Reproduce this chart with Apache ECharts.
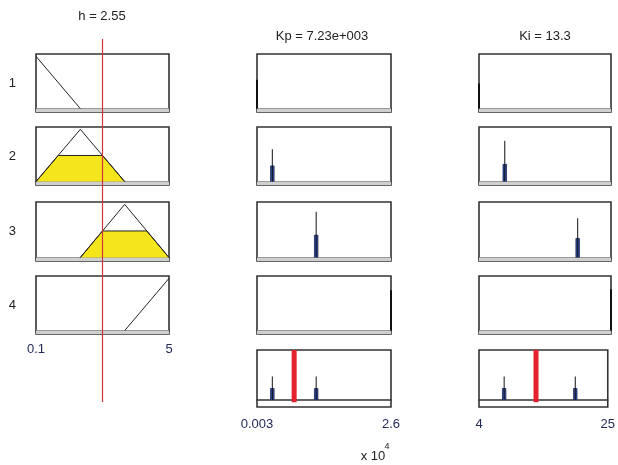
<!DOCTYPE html>
<html>
 <head>
  <meta charset="utf-8" />
  <title>Rule viewer</title>
  <script src="https://cdn.jsdelivr.net/npm/echarts@6/dist/echarts.min.js"></script>
 </head>
 <body style="margin:0;background:#fff;">
  <div id="main" style="width:618px;height:465px;"></div>
  <script type="text/javascript">

    // ranges and crisp values
    var hRange = [0.1, 5];
    var kpRange = [30, 26000];
    var kiRange = [4, 25];
    var hTickLabels = ['0.1', '5'];
    var kpTickLabels = ['0.003', '2.6'];
    var kiTickLabels = ['4', '25'];
    var hValue = 2.55;
    var kpValue = 7230;
    var kiValue = 13.3;
    var ruleLabels = ['1', '2', '3', '4'];

    // input membership functions of h (x, degree)
    var hMf1 = [[0.1, 1], [1.733, 0]];
    var hMf2 = [[0.1, 0], [1.733, 1], [3.367, 0]];
    var hMf3 = [[1.733, 0], [3.367, 1], [5, 0]];
    var hMf4 = [[3.367, 0], [5, 1]];
    // fired parts (clipped at 0.5)
    var hFill2 = [[0.1, 0], [0.917, 0.5], [2.55, 0.5], [3.367, 0]];
    var hFill3 = [[1.733, 0], [2.55, 0.5], [4.183, 0.5], [5, 0]];

    // output spikes per rule: position, visible peak, filled height
    var kpPos = [30, 3000, 11500, 26000];
    var kpPeak = [0.55, 0.62, 0.86, 0.77];
    var kpFill = [0, 0.3, 0.42, 0];
    var kiPos = [4, 8.1, 19.7, 25];
    var kiPeak = [0.48, 0.78, 0.74, 0.79];
    var kiFill = [0, 0.33, 0.36, 0];
    // aggregated row
    var aggPeak = 0.47;
    var aggFill = 0.23;

    var myChart = echarts.init(document.getElementById('main'));

    var colLeft = [36, 257, 479];
    var colWidth = [133, 134, 132];
    var rowTop = [54, 127, 202, 276, 350];
    var rowHeight = [58, 58, 59, 58, 57];

    var grids = [], xAxes = [], yAxes = [], series = [];
    var FONT = 'Liberation Sans';

    function addCell(r, c, range, labels, margin, rowName) {
        var idx = grids.length;
        var agg = r == 4;
        grids.push({
            left: colLeft[c], top: rowTop[r], width: colWidth[c], height: rowHeight[r],
            show: true, borderColor: '#333', borderWidth: 1.6, backgroundColor: 'transparent'
        });
        xAxes.push({
            type: 'value', gridIndex: idx, min: range[0], max: range[1],
            axisLine: { show: true, onZero: true, lineStyle: { color: '#333', width: 1.5 } },
            axisTick: { show: false },
            splitLine: { show: false },
            axisLabel: {
                show: !!labels, customValues: range, margin: margin || 8,
                color: '#232a5a', fontSize: 13, fontFamily: FONT,
                formatter: function (v) {
                    return Math.abs(v - range[0]) < 1e-6 ? labels[0] : labels[1];
                }
            }
        });
        yAxes.push({
            type: 'value', gridIndex: idx,
            min: agg ? -0.14 : -0.065, max: agg ? 1.0 : 1.045,
            axisLine: { show: false }, axisTick: { show: false },
            axisLabel: { show: false }, splitLine: { show: false },
            name: rowName || '', nameLocation: 'middle', nameGap: 20, nameRotate: 0,
            nameTextStyle: { fontSize: 13, color: '#222', fontFamily: FONT }
        });
        if (!agg) {
            series.push({
                type: 'line', xAxisIndex: idx, yAxisIndex: idx, data: [],
                silent: true,
                markArea: {
                    silent: true,
                    itemStyle: { color: '#cfcfcf' },
                    data: [[{ yAxis: -0.065 }, { yAxis: 0 }]]
                }
            });
        }
        return idx;
    }

    function mfLine(idx, pts) {
        series.push({
            type: 'line', xAxisIndex: idx, yAxisIndex: idx, data: pts,
            symbol: 'none', clip: false, z: 3,
            lineStyle: { color: '#222', width: 1 }
        });
    }

    function mfFill(idx, pts) {
        series.push({
            type: 'line', xAxisIndex: idx, yAxisIndex: idx, data: pts,
            symbol: 'none', z: 2,
            lineStyle: { color: '#222', width: 1 },
            areaStyle: { color: '#f5e51b', opacity: 1 }
        });
    }

    function spike(idx, x, peak, fill, halfW) {
        if (fill > 0) {
            series.push({
                type: 'line', xAxisIndex: idx, yAxisIndex: idx,
                data: [[x - halfW, 0], [x - halfW, fill], [x + halfW, fill], [x + halfW, 0]],
                symbol: 'none', z: 2,
                lineStyle: { color: '#1b2550', width: 0.8 },
                areaStyle: { color: '#2f4ea3', opacity: 1 }
            });
        }
        series.push({
            type: 'line', xAxisIndex: idx, yAxisIndex: idx,
            data: [[x, 0], [x, peak]],
            symbol: 'none', clip: false, z: 3,
            lineStyle: { color: '#111', width: fill > 0 ? 1 : 2 }
        });
    }

    function redBar(idx, v) {
        series.push({
            type: 'line', xAxisIndex: idx, yAxisIndex: idx,
            data: [[v, -0.045], [v, 1.0]],
            symbol: 'none', z: 4,
            lineStyle: { color: '#e3222b', width: 5 }
        });
    }

    // input column
    var hMfs = [hMf1, hMf2, hMf3, hMf4];
    var hFills = [null, hFill2, hFill3, null];
    for (var r = 0; r < 4; r++) {
        var gi = addCell(r, 0, hRange, r == 3 ? hTickLabels : null, 9, ruleLabels[r]);
        if (hFills[r]) mfFill(gi, hFills[r]);
        mfLine(gi, hMfs[r]);
    }

    // output columns
    for (var r = 0; r < 4; r++) {
        var gk = addCell(r, 1, kpRange, null);
        spike(gk, kpPos[r], kpPeak[r], kpFill[r], 340);
        var gq = addCell(r, 2, kiRange, null);
        spike(gq, kiPos[r], kiPeak[r], kiFill[r], 0.28);
    }

    // aggregated row
    var ak = addCell(4, 1, kpRange, kpTickLabels, 11);
    spike(ak, kpPos[1], aggPeak, aggFill, 340);
    spike(ak, kpPos[2], aggPeak, aggFill, 340);
    redBar(ak, kpValue);
    var aq = addCell(4, 2, kiRange, kiTickLabels, 11);
    spike(aq, kiPos[1], aggPeak, aggFill, 0.28);
    spike(aq, kiPos[2], aggPeak, aggFill, 0.28);
    redBar(aq, kiValue);

    // red input marker across the whole input column
    var gl = grids.length;
    grids.push({ left: 36, top: 39, width: 133, height: 363, show: false });
    xAxes.push({ type: 'value', gridIndex: gl, min: hRange[0], max: hRange[1], show: false });
    yAxes.push({ type: 'value', gridIndex: gl, min: 0, max: 1, show: false });
    series.push({
        type: 'line', xAxisIndex: gl, yAxisIndex: gl,
        data: [[hValue, 0], [hValue, 1]],
        symbol: 'none', z: 10,
        lineStyle: { color: '#d0343c', width: 1.2 }
    });

    myChart.setOption({
        animation: false,
        backgroundColor: '#fff',
        grid: grids,
        xAxis: xAxes,
        yAxis: yAxes,
        series: series,
        graphic: [
            { type: 'text', x: 102, y: 16, style: { text: 'h = ' + hValue, align: 'center', verticalAlign: 'middle', font: '13px ' + FONT, fill: '#222' } },
            { type: 'text', x: 322, y: 36, style: { text: 'Kp = 7.23e+003', align: 'center', verticalAlign: 'middle', font: '13px ' + FONT, fill: '#222' } },
            { type: 'text', x: 545, y: 36, style: { text: 'Ki = ' + kiValue, align: 'center', verticalAlign: 'middle', font: '13px ' + FONT, fill: '#222' } },
            { type: 'text', x: 373, y: 456, style: { text: 'x 10', align: 'center', verticalAlign: 'middle', font: '13px ' + FONT, fill: '#222' } },
            { type: 'text', x: 387, y: 447, style: { text: '4', align: 'center', verticalAlign: 'middle', font: '9px ' + FONT, fill: '#222' } }
        ]
    });
</script>
 </body>
</html>
